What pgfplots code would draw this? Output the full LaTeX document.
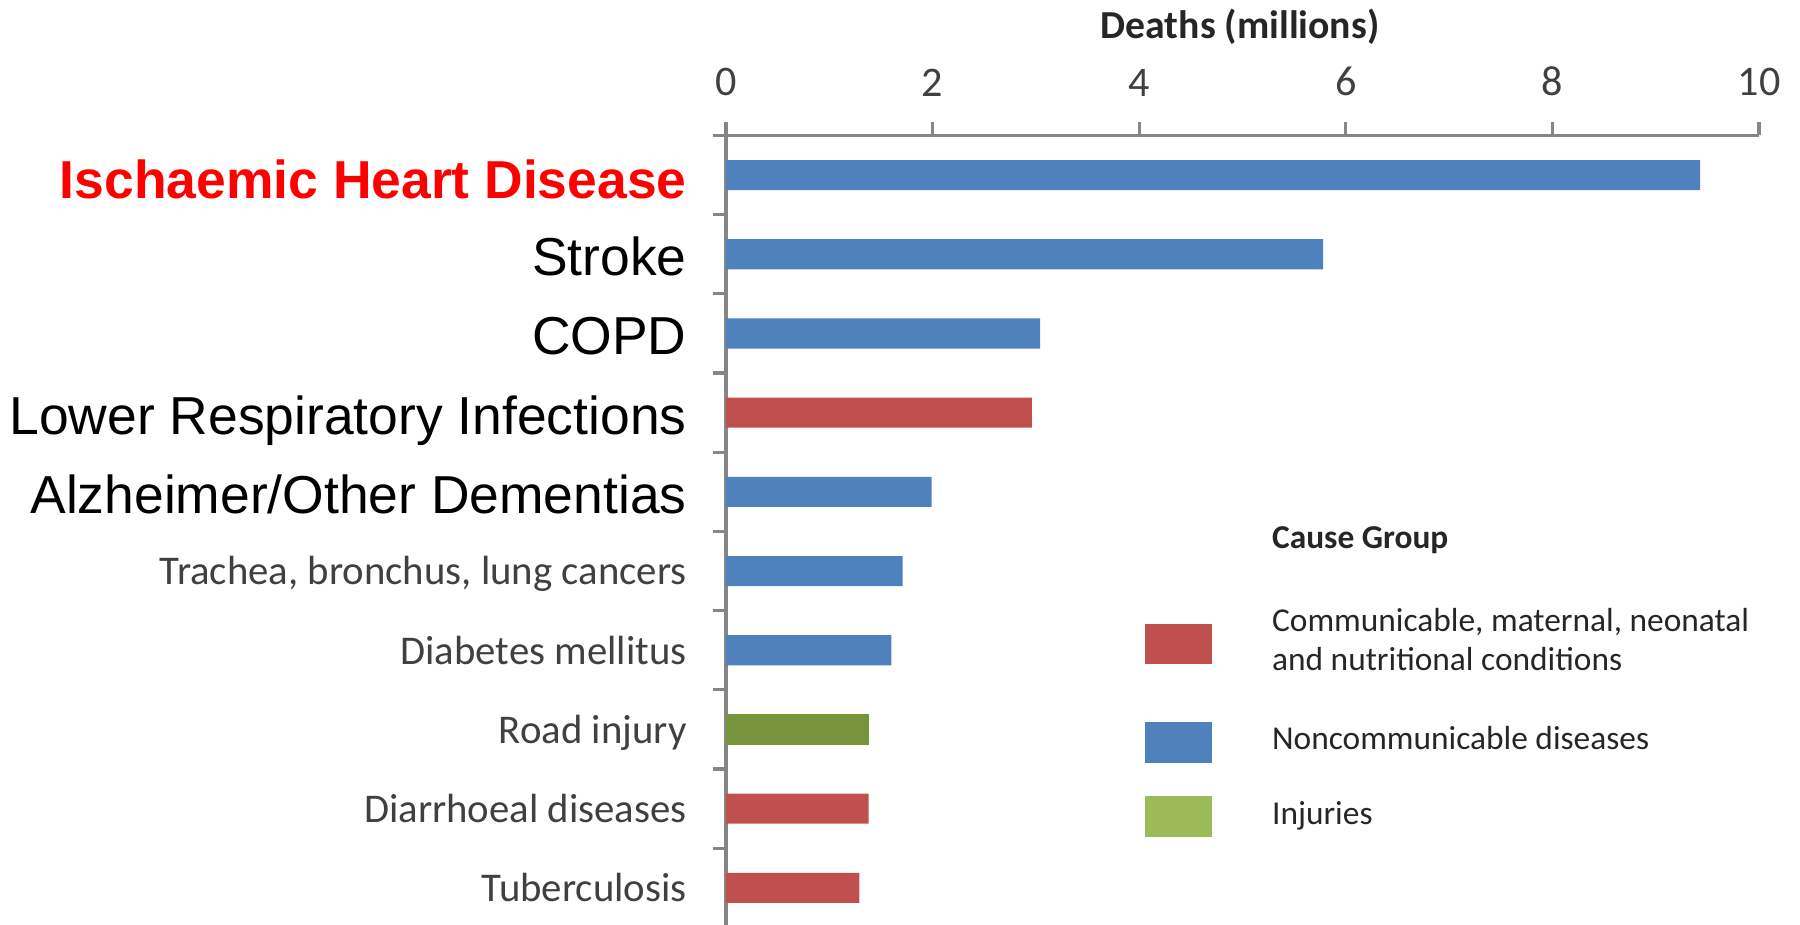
\documentclass[border=0pt]{standalone}
\usepackage{pgfplots}
\pgfplotsset{compat=1.18}
\usepackage{fontspec}
\setmainfont{Carlito}
\newfontfamily\arial{Liberation Sans}
\definecolor{ncd}{HTML}{4F81BD}
\definecolor{cmn}{HTML}{C0504D}
\definecolor{inj}{HTML}{77933C}
\definecolor{injl}{HTML}{9BBB59}
\definecolor{axgray}{HTML}{868686}
\definecolor{txt}{HTML}{404040}
\definecolor{legtxt}{HTML}{262626}
\newcommand\catlab[1]{\raisebox{0pt}[9.3pt][1.4pt]{\fontsize{11.6}{14}\selectfont\color{txt}#1}}
\newcommand\biglab[1]{\raisebox{0pt}[12.2pt][0pt]{\arial\fontsize{15.2}{18}\selectfont\color{black}#1}}
\newcommand\redlab[1]{\raisebox{0pt}[13.4pt][0pt]{\arial\bfseries\fontsize{15.2}{18}\selectfont\color[HTML]{FF0000}#1}}
\begin{document}
\begin{tikzpicture}
\useasboundingbox (0,0) rectangle (18,9.25);
\begin{axis}[
  at={(7.26cm,7.895cm)}, anchor=north west,
  scale only axis, width=10.33cm, height=7.92cm,
  xmin=0, xmax=10, ymin=-0.5, ymax=9.5,
  axis x line*=top, axis y line*=left,
  axis line style={draw=axgray, line width=0.9pt},
  x axis line style={shorten <=-0.13cm},
  tick align=outside,
  major tick length=0pt, minor tick length=0.13cm,
  tick style={draw=axgray, line width=0.9pt},
  xtick={0,2,...,10}, minor xtick={0,2,...,10},
  ytick={0,...,9}, minor ytick={0.5,1.5,...,8.5},
  yticklabels={{\catlab{Tuberculosis}},{\catlab{Diarrhoeal diseases}},{\catlab{Road injury}},{\catlab{Diabetes mellitus}},{\catlab{Trachea, bronchus, lung cancers}},{\biglab{Alzheimer/Other Dementias}},{\biglab{Lower Respiratory Infections}},{\biglab{COPD}},{\biglab{Stroke}},{\redlab{Ischaemic Heart Disease}}},
  xticklabel style={font=\fontsize{12}{14}\selectfont, text=txt, yshift=0.27cm},
  yticklabel style={xshift=-0.27cm},
  /pgf/number format/assume math mode=true,
  legend style={at={(0.4056,0.5057)}, anchor=north west, draw=none, fill=none,
    inner sep=0pt, outer sep=0pt, row sep=0pt, column sep=17pt,
    cells={anchor=base west}, nodes={inner sep=0pt, text depth=},
    font=\fontsize{9.5}{11.1}\selectfont, text=legtxt},
]
\addplot[xbar, bar shift=0pt, bar width=0.38, fill=ncd, draw=none, forget plot]
  coordinates {(9.43,9) (5.78,8) (3.04,7) (1.99,5) (1.71,4) (1.60,3)};
\addplot[xbar, bar shift=0pt, bar width=0.38, fill=cmn, draw=none, forget plot]
  coordinates {(2.96,6) (1.38,1) (1.29,0)};
\addplot[xbar, bar shift=0pt, bar width=0.38, fill=inj, draw=none, forget plot]
  coordinates {(1.38,2)};
\addlegendimage{empty legend}
\addlegendentry{\textbf{Cause Group}\rule[-15.8pt]{0pt}{20pt}}
\addlegendimage{legend image code/.code={\fill[cmn] (0cm,-0.12cm) rectangle (0.66cm,0.27cm);}}
\addlegendentry{\begin{tabular}{@{}l@{}}Communicable, maternal, neonatal\\and nutritional conditions\end{tabular}}
\addlegendimage{legend image code/.code={\fill[ncd] (0cm,-0.12cm) rectangle (0.66cm,0.27cm);}}
\addlegendentry{Noncommunicable diseases\rule[-10pt]{0pt}{29.2pt}}
\addlegendimage{legend image code/.code={\fill[injl] (0cm,-0.12cm) rectangle (0.66cm,0.27cm);}}
\addlegendentry{Injuries\rule[-3pt]{0pt}{14.1pt}}
\end{axis}
\node[font=\fontsize{11.3}{13}\selectfont\bfseries, text=black!85] at (12.40,8.98) {Deaths (millions)};
\end{tikzpicture}
\end{document}
